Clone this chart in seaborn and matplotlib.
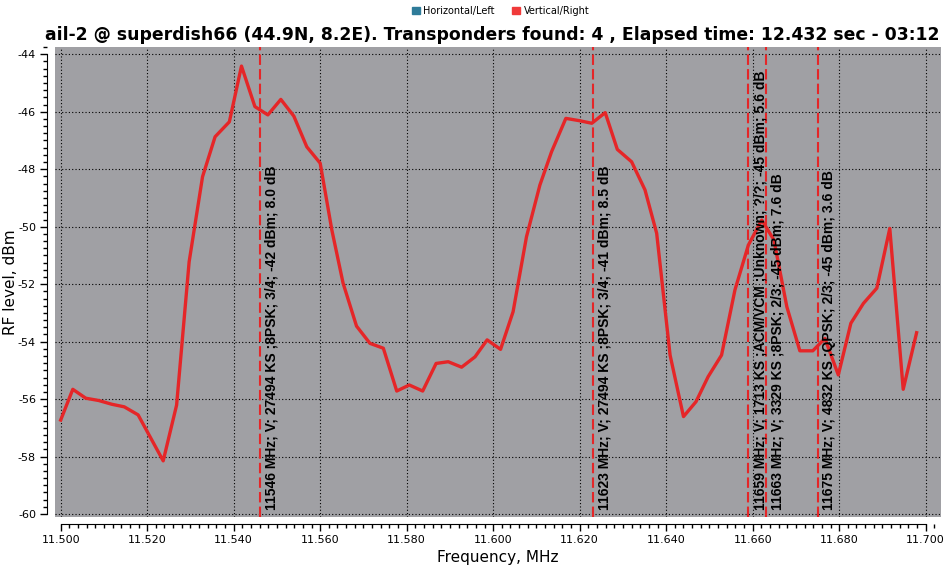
import numpy as np
import pandas as pd
import seaborn as sns
import matplotlib.pyplot as plt
from matplotlib.patches import Patch
from matplotlib.ticker import MultipleLocator

plt.rcParams["axes.unicode_minus"] = False

# spectrum scan, vertical polarisation
freq = [11.5000, 11.5028, 11.5058, 11.5088, 11.5118, 11.5147, 11.5179, 11.5237,
        11.5268, 11.5297, 11.5328, 11.5357, 11.5390, 11.5418, 11.5449, 11.5479,
        11.5509, 11.5539, 11.5569, 11.5600, 11.5627, 11.5653, 11.5684, 11.5715,
        11.5746, 11.5777, 11.5806, 11.5837, 11.5868, 11.5896, 11.5927, 11.5958,
        11.5986, 11.6017, 11.6046, 11.6077, 11.6108, 11.6135, 11.6168, 11.6199,
        11.6228, 11.6259, 11.6287, 11.6320, 11.6351, 11.6378, 11.6409, 11.6440,
        11.6469, 11.6497, 11.6528, 11.6559, 11.6590, 11.6621, 11.6649, 11.6679,
        11.6709, 11.6739, 11.6767, 11.6798, 11.6827, 11.6856, 11.6887, 11.6917,
        11.6948, 11.6979]
level = [-56.73, -55.66, -55.97, -56.05, -56.18, -56.27, -56.55, -58.15,
         -56.21, -51.22, -48.26, -46.87, -46.35, -44.41, -45.82, -46.11,
         -45.57, -46.15, -47.22, -47.79, -50.12, -51.97, -53.46, -54.06,
         -54.23, -55.72, -55.51, -55.72, -54.76, -54.70, -54.89, -54.53,
         -53.94, -54.27, -52.96, -50.35, -48.55, -47.39, -46.23, -46.31,
         -46.40, -46.03, -47.31, -47.74, -48.72, -50.23, -54.47, -56.61,
         -56.09, -55.22, -54.47, -52.20, -50.64, -49.77, -50.46, -52.79,
         -54.32, -54.32, -53.89, -55.16, -53.36, -52.67, -52.14, -50.06,
         -55.66, -53.69]

# transponders found
tp_freq = [11.546, 11.623, 11.659, 11.663, 11.675]
tp_text = [
    "11546 MHz; V; 27494 KS ;8PSK; 3/4; -42 dBm; 8.0 dB",
    "11623 MHz; V; 27494 KS ;8PSK; 3/4; -41 dBm; 8.5 dB",
    "11659 MHz; V; 1713 KS ;ACM/VCM ;Unknown; ?/?; -45 dBm; 5.6 dB",
    "11663 MHz; V; 3329 KS ;8PSK; 2/3; -45 dBm; 7.6 dB",
    "11675 MHz; V; 4832 KS ;QPSK; 2/3; -45 dBm; 3.6 dB",
]

title = "ail-2 @ superdish66 (44.9N, 8.2E). Transponders found: 4 , Elapsed time: 12.432 sec - 03:12"

df = pd.DataFrame({"freq": freq, "level": level})

fig = plt.figure(figsize=(9.45, 5.67), dpi=100)
ax = fig.add_axes([55.5 / 945, 1 - 516.7 / 567, (941 - 55.5) / 945, (516.7 - 47) / 567])
ax.set_facecolor("#a0a0a4")

sns.lineplot(data=df, x="freq", y="level", color="#e52628", linewidth=2.4, ax=ax)

for f, t in zip(tp_freq, tp_text):
    ax.axvline(f, color="#e52628", linestyle=(0, (5, 2)), linewidth=1.5)
    ax.text(f + 0.0011, -59.85, t, rotation=90, ha="left", va="bottom",
            fontsize=10, fontweight="bold", family=["Liberation Sans", "DejaVu Sans"])

ax.set_xlim(11.4988, 11.70354)
ax.set_ylim(-60.094, -43.746)
ax.set_xticks(np.arange(11.5, 11.7001, 0.02))
ax.xaxis.set_minor_locator(MultipleLocator(0.002))
ax.set_yticks(np.arange(-60, -43.9, 2))
ax.yaxis.set_minor_locator(MultipleLocator(0.25))
ax.xaxis.set_major_formatter(plt.FuncFormatter(lambda v, p: f"{v:.3f}"))
ax.grid(True, which="major", color="black", linestyle=(0, (1, 2)), linewidth=0.8)

for s in ["top", "right"]:
    ax.spines[s].set_visible(False)
ax.spines["bottom"].set_position(("outward", 5))
ax.spines["left"].set_position(("outward", 6))
ax.spines["bottom"].set_bounds(11.5, 11.7)
ax.spines["left"].set_bounds(-60, -44)
ax.tick_params(which="major", length=5, width=1, labelsize=8, pad=3)
ax.tick_params(which="minor", length=3, width=1)

ax.set_xlabel("Frequency, MHz", fontsize=11, labelpad=4)
ax.set_ylabel("RF level, dBm", fontsize=11)
ax.yaxis.set_label_coords(-0.0425, 0.5)

fig.text(940 / 945, 1 - 35 / 567, title, ha="right", va="center", fontsize=12.4,
         fontweight="bold")

handles = [Patch(color="#2e7b99", label="Horizontal/Left"),
           Patch(color="#f03a3a", label="Vertical/Right")]
fig.legend(handles=handles, loc="upper center", bbox_to_anchor=(0.53, 1.005), ncol=2,
           frameon=False, fontsize=7, handlelength=0.8, handleheight=0.8,
           handletextpad=0.4, columnspacing=1.8)

fig.savefig("out.png", dpi=100)
